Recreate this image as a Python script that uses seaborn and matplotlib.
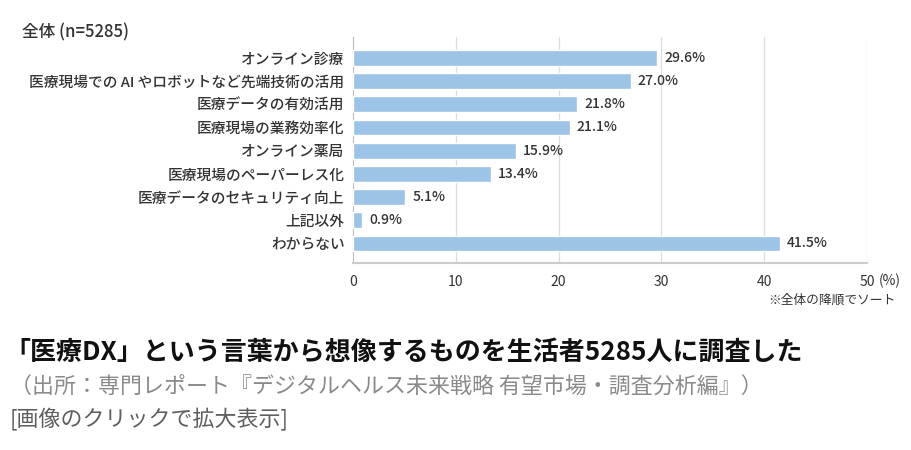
import matplotlib
matplotlib.use('Agg')
import matplotlib.pyplot as plt
import seaborn as sns
import pandas as pd

# --- datos ---
categorias = ['オンライン診療',
              '医療現場での AI やロボットなど先端技術の活用',
              '医療データの有効活用',
              '医療現場の業務効率化',
              'オンライン薬局',
              '医療現場のペーパーレス化',
              '医療データのセキュリティ向上',
              '上記以外',
              'わからない']
porcentajes = [29.6, 27.0, 21.8, 21.1, 15.9, 13.4, 5.1, 0.9, 41.5]
ticks_x = [0, 10, 20, 30, 40, 50]

df = pd.DataFrame({'categoria': categorias, 'pct': porcentajes})

sns.set_style('white')
plt.rcParams['font.family'] = ['Noto Sans CJK JP', 'DejaVu Sans']

fig = plt.figure(figsize=(9.12, 4.5), dpi=100)
ax = fig.add_axes([0.387, 0.4156, 0.5637, 0.5022])

sns.barplot(data=df, x='pct', y='categoria', orient='h', color='#9dc3e6',
            saturation=1, width=0.68, ax=ax, zorder=3)

ax.bar_label(ax.containers[0], labels=[f'{v:.1f}%' for v in porcentajes],
             padding=5, fontsize=10, color='#333333', fontweight='medium')

ax.set_xlim(0, 50)
ax.set_ylim(8.84, -0.9)
ax.set_xticks(ticks_x)
ax.set_xticklabels([str(t) for t in ticks_x], fontsize=10, color='#333333')
ax.tick_params(axis='x', length=0, pad=9)
ax.tick_params(axis='y', length=0, pad=6, labelsize=10.6, labelcolor='#333333')
for lbl in ax.get_yticklabels():
    lbl.set_fontweight('medium')
ax.set_xlabel('')
ax.set_ylabel('')

for t in ticks_x[1:]:
    ax.axvline(t, color='#dddddd', lw=0.9, zorder=1)

for s in ['top', 'right']:
    ax.spines[s].set_visible(False)
ax.spines['left'].set_color('#bbbbbb')
ax.spines['bottom'].set_color('#cccccc')
ax.spines['bottom'].set_linewidth(1.5)

# --- textos ---
fig.text(22 / 912, 1 - 32 / 450, '全体 (n=5285)', fontsize=12, color='#333333',
         va='center', fontweight='medium')
fig.text(879 / 912, 1 - 281 / 450, '(%)', fontsize=10, color='#333333', va='center')
fig.text(896 / 912, 1 - 300 / 450, '※全体の降順でソート', fontsize=9.2, color='#333333',
         va='center', ha='right')

fig.text(4 / 912, 1 - 352 / 450, '「医療DX」という言葉から想像するものを生活者5285人に調査した',
         fontsize=18.7, fontweight='bold', color='#111111', va='center')
fig.text(10 / 912, 1 - 387 / 450, '（出所：専門レポート『デジタルヘルス未来戦略 有望市場・調査分析編』）',
         fontsize=15.8, color='#8a8a8a', va='center')
fig.text(10 / 912, 1 - 420 / 450, '[画像のクリックで拡大表示]',
         fontsize=15.8, color='#5e5e5e', va='center')

fig.savefig('out.png', dpi=100)
